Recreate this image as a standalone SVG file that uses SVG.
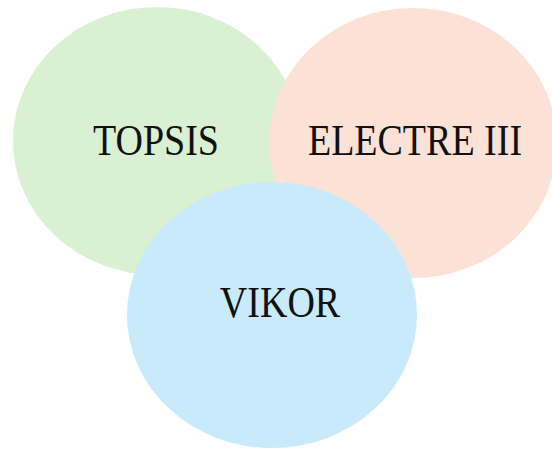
<svg xmlns="http://www.w3.org/2000/svg" width="552" height="450" viewBox="0 0 552 450">
<style>
.lbl{font-family:"Liberation Serif","Times New Roman",serif;font-size:38px;fill:#111;text-anchor:middle}
</style>
<rect width="552" height="450" fill="#fff"/>
<g id="topsis">
<ellipse cx="157" cy="141" rx="144" ry="134" fill="#daf0d2"/>
<text class="lbl" transform="translate(156,155) scale(1,1.15)">TOPSIS</text>
</g>
<g id="electre">
<ellipse cx="413" cy="143" rx="144" ry="135" fill="#fce1d6"/>
<text class="lbl" transform="translate(415,155) scale(1,1.15)">ELECTRE III</text>
</g>
<g id="vikor">
<ellipse cx="272" cy="315" rx="145" ry="133" fill="#c8eafb"/>
<text class="lbl" transform="translate(280,317) scale(1,1.15)">VIKOR</text>
</g>
<g id="connectors"></g>
</svg>
